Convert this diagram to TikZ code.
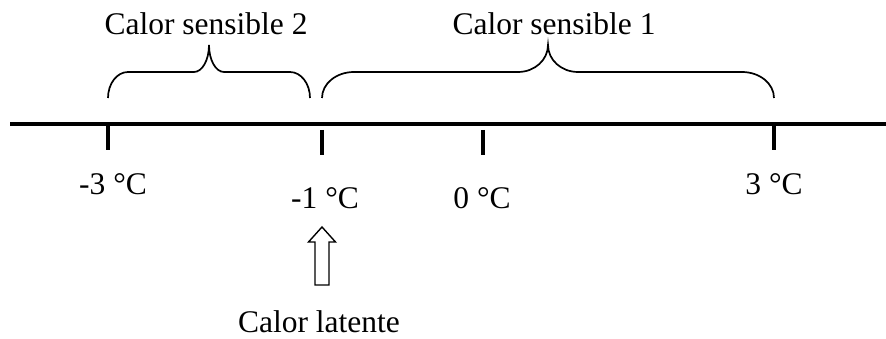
\documentclass[tikz,border=0pt]{standalone}
\usepackage{fontspec}
\setmainfont{Liberation Serif}
\usetikzlibrary{positioning}

\begin{document}
\begin{tikzpicture}[
  x=1pt, y=-1pt,
  font=\fontsize{31.5}{38}\selectfont,
  axisline/.style={draw=black, line width=4pt},
  tickmark/.style={draw=black, line width=3.6pt},
  tempnode/.style={anchor=base, inner sep=0pt},
  heatbrace/.style={draw=black, line width=1.7pt},
  hollowarrow/.style={draw=black, line width=1.4pt, fill=white, line join=miter}
]
  \useasboundingbox (0,0) rectangle (886,339);
  % axis
  \coordinate (axL) at (10,124);
  \coordinate (axR) at (886,124);
  \draw[axisline] (axL) -- (axR);
  % ticks
  \coordinate (tm3a) at (108,124);  \coordinate (tm3b) at (108,150);
  \coordinate (tm1a) at (322,130);  \coordinate (tm1b) at (322,155);
  \coordinate (t0a)  at (483,130);  \coordinate (t0b)  at (483,155);
  \coordinate (tp3a) at (774,124);  \coordinate (tp3b) at (774,150);
  \draw[tickmark] (tm3a) -- (tm3b);
  \draw[tickmark] (tm1a) -- (tm1b);
  \draw[tickmark] (t0a) -- (t0b);
  \draw[tickmark] (tp3a) -- (tp3b);
  % temperatures
  \node[tempnode] (lm3) at (113,195) {-3 °C};
  \node[tempnode] (lm1) at (325,208) {-1 °C};
  \node[tempnode] (l0)  at (482,208) {0 °C};
  \node[tempnode] (lp3) at (774,195) {3 °C};
  % braces
  \coordinate (b2L) at (108,98);  \coordinate (b2R) at (310,98);  \coordinate (b2T) at (209,45);
  \coordinate (b1L) at (322,98);  \coordinate (b1R) at (774,98);  \coordinate (b1T) at (548,45);
  \draw[heatbrace] (b2L) .. controls (108,83.6) and (117,72) .. (128,72) -- (194,72)
    .. controls (202.3,72) and (209,60) .. (b2T)
    .. controls (209,60) and (215.7,72) .. (224,72) -- (290,72)
    .. controls (301,72) and (310,83.6) .. (b2R);
  \draw[heatbrace] (b1L) .. controls (322,83.6) and (336.3,72) .. (354,72) -- (518,72)
    .. controls (534.6,72) and (548,60) .. (b1T)
    .. controls (548,60) and (561.4,72) .. (578,72) -- (742,72)
    .. controls (759.7,72) and (774,83.6) .. (b1R);
  \node[tempnode] (sens2) at (206,35) {Calor sensible 2};
  \node[tempnode] (sens1) at (554,35) {Calor sensible 1};
  % latent heat
  \node[tempnode] (latent) at (319,332) {Calor latente};
  \coordinate (arrtip) at (322,227);
  \draw[hollowarrow] (arrtip) -- ++(13.5,15) -- ++(-6.5,0) -- ++(0,43)
    -- ++(-14,0) -- ++(0,-43) -- ++(-6.5,0) -- cycle;
\end{tikzpicture}
\end{document}
